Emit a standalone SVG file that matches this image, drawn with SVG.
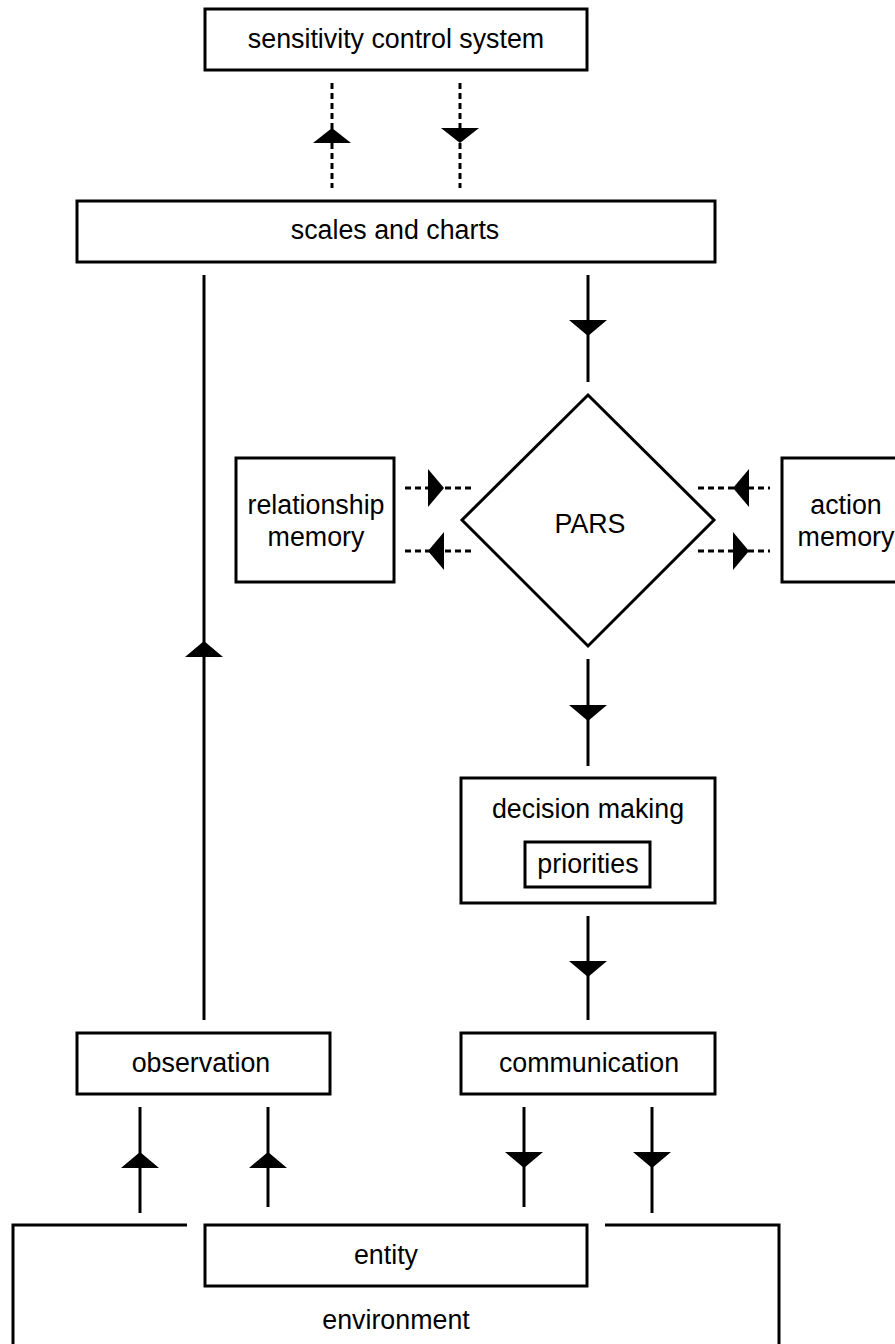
<svg xmlns="http://www.w3.org/2000/svg" width="895" height="1344" viewBox="0 0 895 1344">
<style>
.box{fill:#fff;stroke:#000;stroke-width:3}
.ln{fill:none;stroke:#000;stroke-width:3}
.dash{fill:none;stroke:#000;stroke-width:3;stroke-dasharray:6,4}
.ah{fill:#000;stroke:none}
text{font-family:"Liberation Sans",Arial,sans-serif;font-size:26.8px;fill:#000;text-anchor:middle}
</style>
<rect width="895" height="1344" fill="#fff"/>
<g id="environment">
<path class="ln" d="M13,1350 V1225 H187 M605,1225 H779 V1350"/>
<text x="396" y="1329">environment</text>
</g>
<g id="sensitivity">
<rect class="box" x="205" y="9" width="382" height="61"/>
<text x="396" y="48">sensitivity control system</text>
</g>
<g id="scales">
<rect class="box" x="77" y="201" width="638" height="61"/>
<text x="395" y="239">scales and charts</text>
</g>
<g id="pars">
<polygon class="box" points="588,395 714,520 588,646 462,520"/>
<text x="590" y="533">PARS</text>
</g>
<g id="relationship">
<rect class="box" x="236" y="458" width="158" height="124"/>
<text x="316" y="514">relationship</text>
<text x="316" y="546">memory</text>
</g>
<g id="action">
<rect class="box" x="782" y="458" width="130" height="124"/>
<text x="846" y="514">action</text>
<text x="846" y="546">memory</text>
</g>
<g id="decision">
<rect class="box" x="461" y="778" width="254" height="125"/>
<text x="588" y="818">decision making</text>
<rect class="box" x="525" y="842" width="125" height="45"/>
<text x="588" y="873">priorities</text>
</g>
<g id="observation">
<rect class="box" x="77" y="1033" width="253" height="61"/>
<text x="201" y="1072">observation</text>
</g>
<g id="communication">
<rect class="box" x="461" y="1033" width="254" height="61"/>
<text x="589" y="1072">communication</text>
</g>
<g id="entity">
<rect class="box" x="205" y="1225" width="382" height="61"/>
<text x="386" y="1264">entity</text>
</g>
<g id="connectors">
<line class="dash" x1="332" y1="83" x2="332" y2="188"/>
<polygon class="ah" points="332,128 313,143 351,143"/>
<line class="dash" x1="460" y1="83" x2="460" y2="188"/>
<polygon class="ah" points="460,143 441,128 479,128"/>
<line class="ln" x1="204" y1="275" x2="204" y2="1020"/>
<polygon class="ah" points="204,641 185,657 223,657"/>
<line class="ln" x1="588" y1="275" x2="588" y2="382"/>
<polygon class="ah" points="588,336 569,320 607,320"/>
<line class="dash" x1="405" y1="488" x2="475" y2="488"/>
<polygon class="ah" points="444,488 428,469 428,507"/>
<line class="dash" x1="405" y1="551" x2="475" y2="551"/>
<polygon class="ah" points="428,551 444,532 444,570"/>
<line class="dash" x1="698" y1="488" x2="770" y2="488"/>
<polygon class="ah" points="733,488 749,469 749,507"/>
<line class="dash" x1="698" y1="551" x2="770" y2="551"/>
<polygon class="ah" points="749,551 733,532 733,570"/>
<line class="ln" x1="588" y1="659" x2="588" y2="766"/>
<polygon class="ah" points="588,721 569,705 607,705"/>
<line class="ln" x1="588" y1="916" x2="588" y2="1020"/>
<polygon class="ah" points="588,977 569,961 607,961"/>
<line class="ln" x1="140" y1="1107" x2="140" y2="1213"/>
<polygon class="ah" points="140,1152 121,1168 159,1168"/>
<line class="ln" x1="268" y1="1107" x2="268" y2="1207"/>
<polygon class="ah" points="268,1152 249,1168 287,1168"/>
<line class="ln" x1="524" y1="1107" x2="524" y2="1207"/>
<polygon class="ah" points="524,1168 505,1152 543,1152"/>
<line class="ln" x1="652" y1="1107" x2="652" y2="1213"/>
<polygon class="ah" points="652,1168 633,1152 671,1152"/>
</g>
</svg>
